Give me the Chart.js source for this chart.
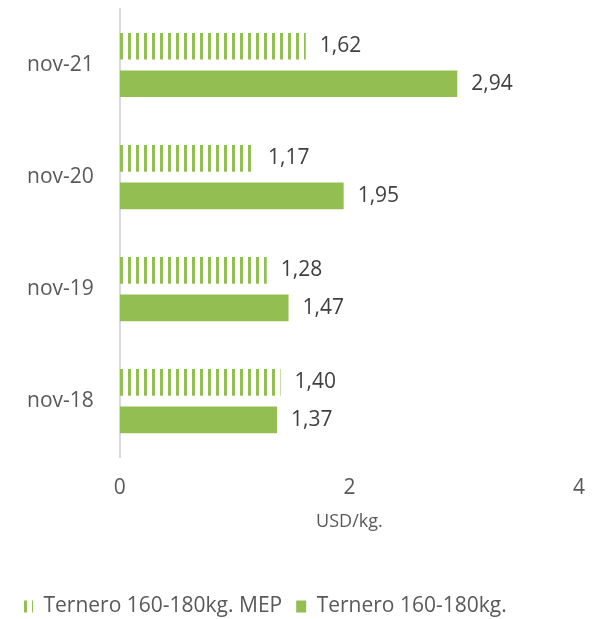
<!DOCTYPE html>
<html>
<head>
<meta charset="utf-8">
<script src="https://cdn.jsdelivr.net/npm/chart.js@4"></script>
<style>
  html, body { margin: 0; padding: 0; background: #fff; }
  #wrap { width: 607px; height: 619px; }
</style>
</head>
<body>
<div id="wrap"><canvas id="chart"></canvas></div>
<script>
// Chart data
const categories = ['nov-21', 'nov-20', 'nov-19', 'nov-18'];
const mepValues = [1.62, 1.17, 1.28, 1.40];
const ternValues = [2.94, 1.95, 1.47, 1.37];
const seriesNames = ['Ternero 160-180kg. MEP', 'Ternero 160-180kg.'];
const xTicks = [0, 2, 4];

const green = '#93bf52';
const textColor = '#595959';
const fontFamily = '"Open Sans", sans-serif';

// Vertical stripes for the MEP series
function makeStripes() {
  const c = document.createElement('canvas');
  c.width = 8;
  c.height = 8;
  const ctx = c.getContext('2d');
  ctx.fillStyle = green;
  ctx.fillRect(0, 0, 3, 8);
  return ctx.createPattern(c, 'repeat');
}

// Draws "1,62"-style labels right of each bar
const valueLabels = {
  id: 'valueLabels',
  afterDatasetsDraw(chart) {
    const ctx = chart.ctx;
    ctx.save();
    ctx.font = '21px ' + fontFamily;
    ctx.fillStyle = '#404040';
    ctx.textAlign = 'left';
    ctx.textBaseline = 'middle';
    chart.data.datasets.forEach((ds, i) => {
      chart.getDatasetMeta(i).data.forEach((bar, j) => {
        const txt = ds.data[j].toFixed(2).replace('.', ',');
        ctx.fillText(txt, bar.x + 14, bar.y);
      });
    });
    ctx.restore();
  }
};

new Chart(document.getElementById('chart'), {
  type: 'bar',
  data: {
    labels: categories,
    datasets: [
      {
        label: seriesNames[0],
        data: mepValues,
        backgroundColor: makeStripes(),
        categoryPercentage: 0.67,
        barPercentage: 0.71,
      },
      {
        label: seriesNames[1],
        data: ternValues,
        backgroundColor: green,
        categoryPercentage: 0.67,
        barPercentage: 0.71,
      },
    ],
  },
  options: {
    indexAxis: 'y',
    responsive: true,
    maintainAspectRatio: false,
    animation: false,
    layout: { padding: { top: 9, right: 28, left: 9, bottom: -8 } },
    scales: {
      x: {
        min: 0,
        max: 4,
        afterBuildTicks: (axis) => { axis.ticks = xTicks.map(v => ({ value: v })); },
        grid: { display: false },
        border: { display: false },
        ticks: { color: textColor, font: { family: fontFamily, size: 21 }, padding: 10 },
        title: {
          display: true,
          text: 'USD/kg.',
          color: textColor,
          font: { family: fontFamily, size: 18 },
          padding: { top: 1, bottom: 49 },
        },
      },
      y: {
        grid: { display: false },
        border: { display: true, color: '#d9d9d9', width: 2 },
        ticks: { color: textColor, font: { family: fontFamily, size: 21 }, padding: 18 },
        // the category labels should not push the plot down
        afterFit: (scale) => { scale.paddingTop = 0; scale.paddingBottom = 0; },
      },
    },
    plugins: {
      legend: {
        position: 'bottom',
        align: 'start',
        labels: {
          color: textColor,
          font: { family: fontFamily, size: 21 },
          boxWidth: 10,
          boxHeight: 12,
          padding: 14,
        },
      },
      tooltip: { enabled: false },
    },
  },
  plugins: [valueLabels],
});
</script>
</body>
</html>
